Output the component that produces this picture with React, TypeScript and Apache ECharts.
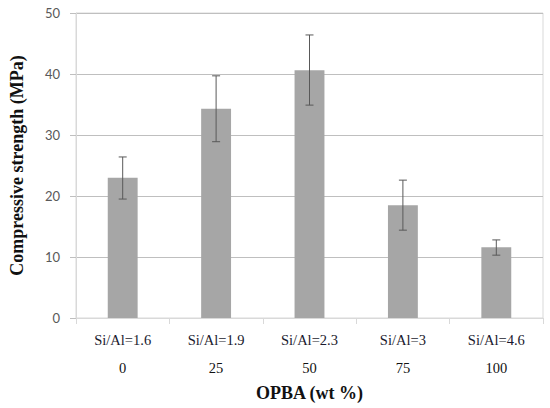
import React, { useEffect, useRef } from "react";
import * as echarts from "echarts";

const ratioLabels = ["Si/Al=1.6", "Si/Al=1.9", "Si/Al=2.3", "Si/Al=3", "Si/Al=4.6"];
const opbaLabels = ["0", "25", "50", "75", "100"];
const strength = [23.0, 34.3, 40.6, 18.5, 11.6];
const errLow = [19.5, 28.9, 34.9, 14.4, 10.3];
const errHigh = [26.4, 39.7, 46.4, 22.6, 12.8];
const yTicks = { min: 0, max: 50, interval: 10 };

const serif = "'Palatino Linotype', 'Book Antiqua', Palatino, 'Liberation Serif', serif";

export default function App() {
  const ref = useRef<HTMLDivElement>(null);
  useEffect(() => {
    document.body.style.margin = "0";
    if (!ref.current) return;
    const chart = echarts.init(ref.current, null, { renderer: "svg" });
    const errData = strength.map((_, i) => [i, errLow[i], errHigh[i]]);
    chart.setOption({
      animation: false,
      backgroundColor: "#ffffff",
      grid: {
        left: 74,
        right: 7,
        top: 13,
        bottom: 90,
        show: true,
        borderColor: "#d9d9d9",
        borderWidth: 1,
      },
      xAxis: [
        {
          type: "category",
          data: ratioLabels,
          position: "bottom",
          axisLine: { show: true, lineStyle: { color: "#d9d9d9" } },
          axisTick: { show: true, length: 6, lineStyle: { color: "#d9d9d9" } },
          axisLabel: {
            margin: 14,
            color: "#1a1a2e",
            fontFamily: serif,
            fontSize: 14.5,
          },
        },
        {
          type: "category",
          data: opbaLabels,
          position: "bottom",
          offset: 28,
          axisLine: { show: false },
          axisTick: { show: false },
          axisLabel: {
            margin: 14,
            color: "#111111",
            fontFamily: serif,
            fontSize: 14.5,
          },
          name: "OPBA (wt %)",
          nameLocation: "middle",
          nameGap: 38,
          nameTextStyle: {
            color: "#111111",
            fontFamily: serif,
            fontWeight: "bold",
            fontSize: 18,
          },
        },
      ],
      yAxis: {
        type: "value",
        min: yTicks.min,
        max: yTicks.max,
        interval: yTicks.interval,
        axisLine: { show: true, lineStyle: { color: "#d9d9d9" } },
        axisTick: { show: true, length: 6, lineStyle: { color: "#bfbfbf" } },
        splitLine: { show: true, lineStyle: { color: "#bfbfbf", width: 1 } },
        axisLabel: {
          margin: 16,
          color: "#595959",
          fontFamily: "Lato, 'Open Sans', sans-serif",
          fontSize: 13,
        },
        name: "Compressive strength (MPa)",
        nameLocation: "middle",
        nameGap: 50,
        nameTextStyle: {
          color: "#111111",
          fontFamily: serif,
          fontWeight: "bold",
          fontSize: 18,
        },
      },
      series: [
        {
          type: "bar",
          data: strength,
          barWidth: "32%",
          itemStyle: { color: "#a6a6a6" },
          xAxisIndex: 0,
        },
        {
          type: "custom",
          xAxisIndex: 0,
          data: errData,
          z: 10,
          renderItem: (params: any, api: any) => {
            const x = api.value(0);
            const lo = api.coord([x, api.value(1)]);
            const hi = api.coord([x, api.value(2)]);
            const hw = 4;
            const style = { stroke: "#595959", lineWidth: 1 };
            return {
              type: "group",
              children: [
                { type: "line", shape: { x1: lo[0], y1: lo[1], x2: hi[0], y2: hi[1] }, style },
                { type: "line", shape: { x1: lo[0] - hw, y1: lo[1], x2: lo[0] + hw, y2: lo[1] }, style },
                { type: "line", shape: { x1: hi[0] - hw, y1: hi[1], x2: hi[0] + hw, y2: hi[1] }, style },
              ],
            };
          },
        },
      ],
    });
    return () => chart.dispose();
  }, []);
  return <div ref={ref} style={{ width: 550, height: 408 }} />;
}
